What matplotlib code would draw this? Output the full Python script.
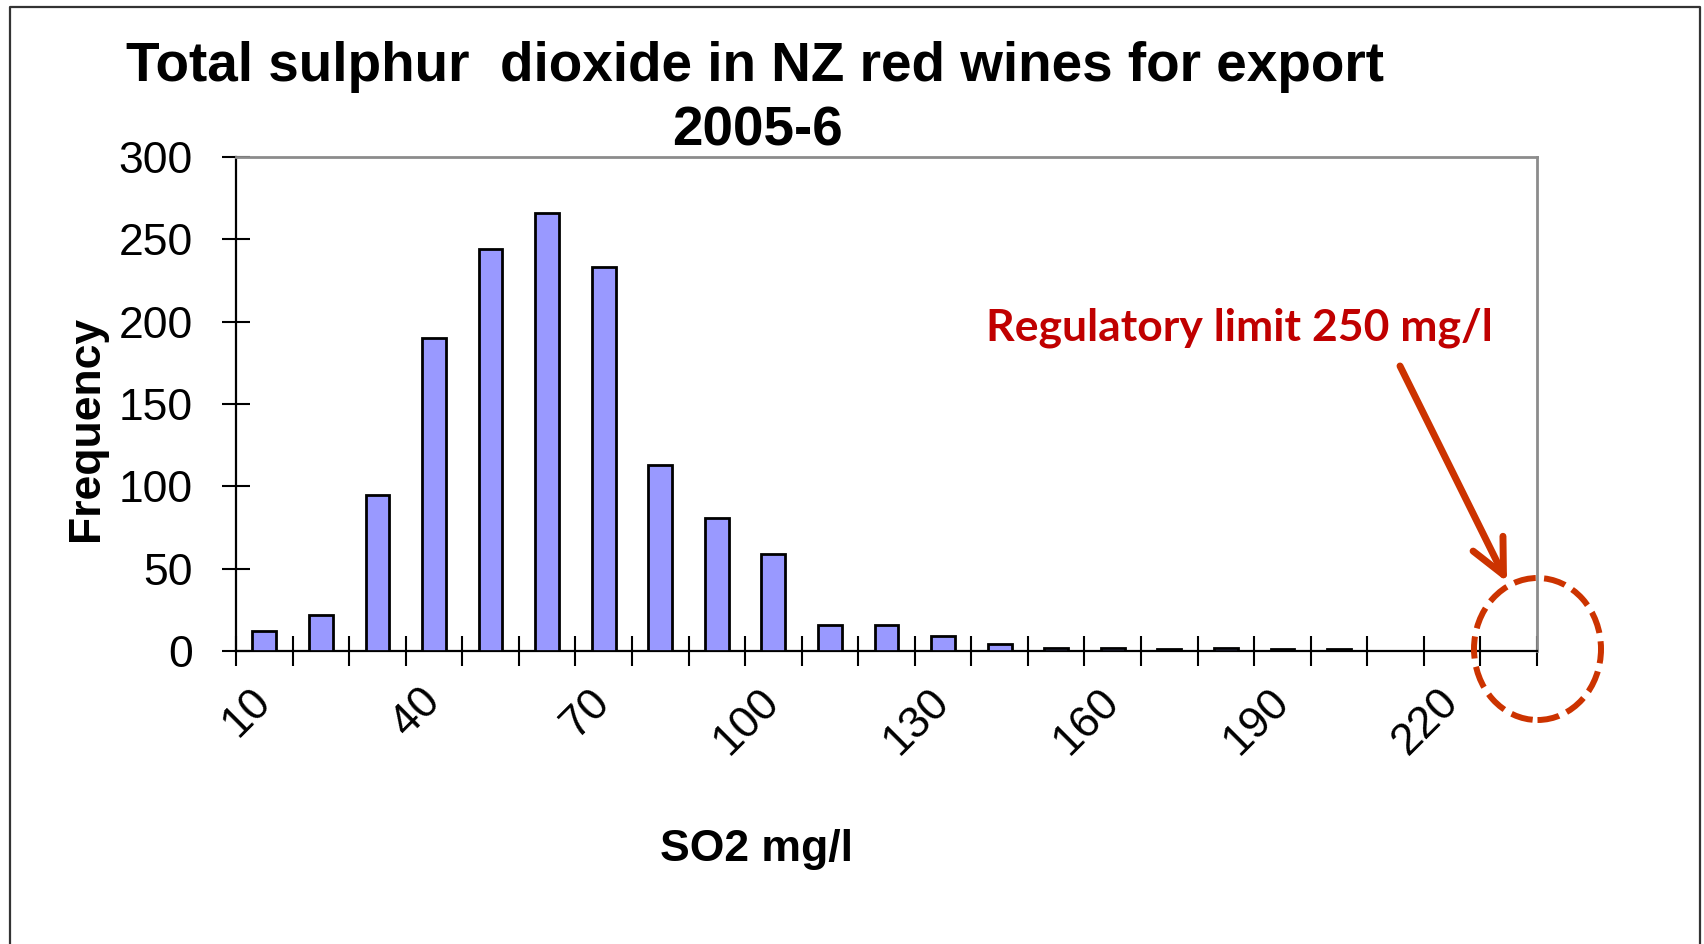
import matplotlib
matplotlib.use("Agg")
import matplotlib.pyplot as plt
from matplotlib.patches import Ellipse, FancyArrowPatch
from matplotlib.lines import Line2D
import numpy as np

# ---- data ----
so2_bins = [10, 20, 30, 40, 50, 60, 70, 80, 90, 100, 110, 120, 130, 140, 150,
            160, 170, 180, 190, 200, 210, 220, 230]
frequency = [12, 22, 95, 190, 244, 266, 233, 113, 81, 59, 16, 16, 9, 4, 2,
             2, 1, 2, 1, 1, 0, 0, 0]
label_every = 3
yticks = [0, 50, 100, 150, 200, 250, 300]

title_line1 = "Total sulphur  dioxide in NZ red wines for export"
title_line2 = "2005-6"
xlabel = "SO2 mg/l"
ylabel = "Frequency"
note = "Regulatory limit 250 mg/l"

W, H = 1704, 944
fig = plt.figure(figsize=(W / 100, H / 100), dpi=100)
fig.patch.set_facecolor("white")

left, right, top, bottom = 236, 1537, 157, 651
ax = fig.add_axes([left / W, 1 - bottom / H, (right - left) / W, (bottom - top) / H])

x = np.arange(len(so2_bins))
ax.bar(x, frequency, width=0.42, color="#9999FF", edgecolor="black", linewidth=2.0, zorder=3)

ax.set_xlim(-0.5, len(so2_bins) - 0.5)
ax.set_ylim(0, 300)

font = "Liberation Sans"

# y axis
ax.set_yticks(yticks)
ax.set_yticklabels([str(v) for v in yticks], fontsize=32, family=font)
ax.tick_params(axis="y", direction="inout", length=20, width=1.5, pad=21, color="black")

# x axis: major ticks at category boundaries, labels on minor ticks at centers
ax.set_xticks(np.arange(len(so2_bins) + 1) - 0.5)
ax.set_xticklabels([])
lab_pos = x[::label_every]
ax.set_xticks(lab_pos, minor=True)
ax.set_xticklabels([str(so2_bins[i]) for i in lab_pos], minor=True, fontsize=32, family=font)
ax.tick_params(axis="x", which="major", direction="inout", length=21, width=1.5, color="black")
ax.tick_params(axis="x", which="minor", length=0, pad=32)
for lbl in ax.get_xticklabels(minor=True):
    lbl.set_rotation(45)
    lbl.set_rotation_mode("anchor")
    lbl.set_ha("right")
    lbl.set_va("center")

# spines
for s in ["left", "bottom"]:
    ax.spines[s].set_color("black")
    ax.spines[s].set_linewidth(1.6)
for s in ["top", "right"]:
    ax.spines[s].set_color("#8c8c8c")
    ax.spines[s].set_linewidth(2.0)

ax.set_ylabel(ylabel, fontsize=32, fontweight="bold", family=font)
ax.yaxis.set_label_coords((87 - left) / (right - left), (bottom - 428) / (bottom - top))
ax.set_xlabel(xlabel, fontsize=32, fontweight="bold", family=font)
ax.xaxis.set_label_coords((757 - left) / (right - left), (bottom - 850) / (bottom - top))
ax.xaxis.label.set_va("center")
ax.yaxis.label.set_va("center")

# title (two lines)
fig.text(755 / W, 1 - 67 / H, title_line1, ha="center", va="center", fontsize=39.5,
         fontweight="bold", family=font)
fig.text(757 / W, 1 - 131 / H, title_line2, ha="center", va="center", fontsize=39.5,
         fontweight="bold", family=font)

# annotation
fig.text(1239 / W, 1 - 328 / H, note, ha="center", va="center", fontsize=32,
         fontweight="bold", family=["Lato", "DejaVu Sans"], color="#C00000")

arrow = FancyArrowPatch((1400 / W, 1 - 366 / H), (1507 / W, 1 - 582 / H),
                        transform=fig.transFigure, arrowstyle="->,head_length=25,head_width=12",
                        mutation_scale=1, color="#CC3300", linewidth=5, shrinkA=0, shrinkB=0)
fig.add_artist(arrow)

ell = Ellipse((1537.5 / W, 1 - 649 / H), 127 / W, 142 / H, transform=fig.transFigure,
              fill=False, edgecolor="#CC3300", linewidth=4.3, linestyle=(0, (3.7, 1.4)))
fig.add_artist(ell)

# outer border (left, top, right)
bx0, bx1, by0 = 10, 1700, 7
fig.add_artist(Line2D([bx0 / W, bx0 / W, bx1 / W, bx1 / W], [0, 1 - by0 / H, 1 - by0 / H, 0],
                      transform=fig.transFigure, color="#333333", linewidth=1.6))

fig.savefig("out.png", dpi=100, facecolor="white")
